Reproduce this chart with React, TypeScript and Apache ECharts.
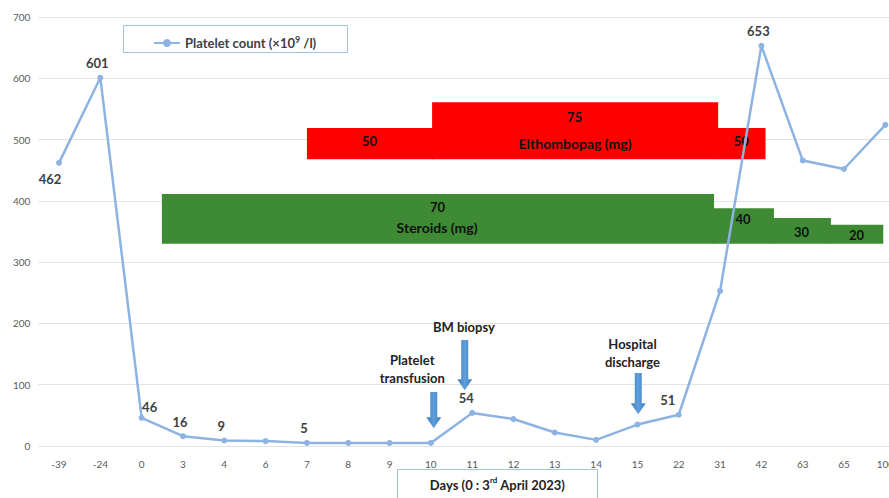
import React, { useEffect, useRef } from "react";
import * as echarts from "echarts";

const categories = ["-39", "-24", "0", "3", "4", "6", "7", "8", "9", "10", "11", "12", "13", "14", "15", "22", "31", "42", "63", "65", "100"];
const platelets = [462, 601, 46, 16, 9, 8, 5, 5, 5, 5, 54, 44, 22, 10, 35, 51, 253, 653, 466, 452, 524];
const yTicks = { min: 0, max: 700, interval: 100 };

// labelled points: index -> label placement
const labelledPoints: Record<number, string> = {
  0: "bottomLeft", 1: "top", 2: "topRight", 3: "top", 4: "top", 6: "top", 10: "topLeft", 15: "left", 17: "top",
};

// Elthombopag steps (x in category-index units)
const elthDose = [50, 75, 50];
const elthFrom = [6, 9.03, 15.93];
const elthTo = [9.03, 15.93, 17.1];
const elthTop = [519, 561, 519];
const elthBase = 468;
const elthLabelY = [498, 537, 498];
const elthName = "Elthombopag (mg)";

// Steroid steps
const sterDose = [70, 40, 30, 20];
const sterFrom = [2.49, 15.83, 17.28, 18.66];
const sterTo = [15.83, 17.28, 18.66, 19.95];
const sterTop = [411, 388, 372, 361];
const sterBase = 330;
const sterLabelY = [390, 370, 349, 344];
const sterName = "Steroids (mg)";

// events
const eventText = ["Platelet\ntransfusion", "BM biopsy", "Hospital\ndischarge"];
const eventArrowX = [9.07, 9.82, 14.02];
const eventArrowTop = [88, 173, 119];
const eventArrowBottom = [29, 91, 52];
const eventTextX = [8.55, 9.8, 13.88];
const eventTextY = [125, 194, 152];

const FONT = "Lato, 'Open Sans', sans-serif";

function labelFor(pos: string) {
  const base: any = { show: true, fontSize: 13, fontWeight: "bold", color: "#404040", fontFamily: FONT };
  switch (pos) {
    case "bottomLeft": return { ...base, position: "bottom", offset: [-9, 2] };
    case "top": return { ...base, position: "top", offset: [-3, 0] };
    case "topRight": return { ...base, position: "top", offset: [8, 4] };
    case "topLeft": return { ...base, position: "top", offset: [-6, 0] };
    case "left": return { ...base, position: "top", offset: [-11, 0] };
  }
  return base;
}

export default function App() {
  const ref = useRef<HTMLDivElement>(null);
  useEffect(() => {
    if (!ref.current) return;
    const chart = echarts.init(ref.current, null, { renderer: "svg" });

    const lineData = platelets.map((v, i) =>
      labelledPoints[i] ? { value: v, label: labelFor(labelledPoints[i]) } : { value: v }
    );

    const elthData = elthDose.map((d, i) => [elthFrom[i], elthTo[i], elthBase, elthTop[i], d, elthLabelY[i]]);
    const sterData = sterDose.map((d, i) => [sterFrom[i], sterTo[i], sterBase, sterTop[i], d, sterLabelY[i]]);

    const stepRender = (color: string, name: string, nameX: number, nameY: number, count: number) => (params: any, api: any) => {
      const from = api.value(0), to = api.value(1), base = api.value(2), top = api.value(3);
      const dose = api.value(4), ly = api.value(5);
      const p1 = api.coord([from, top]);
      const p2 = api.coord([to, base]);
      const pl = api.coord([(from + to) / 2, ly]);
      const extra = params.dataIndex < count - 1 ? 1 : 0;
      const children: any[] = [
        { type: "rect", shape: { x: p1[0], y: p1[1], width: p2[0] - p1[0] + extra, height: p2[1] - p1[1] }, style: { fill: color }, z2: 1 },
        { type: "text", x: pl[0], y: pl[1], style: { text: String(dose), fill: "#111", font: `bold 13px ${FONT}`, align: "center", verticalAlign: "middle" }, z2: 5 },
      ];
      if (params.dataIndex === 0) {
        const pn = api.coord([nameX, nameY]);
        children.push({ type: "text", x: pn[0], y: pn[1], style: { text: name, fill: "#111", font: `bold 14px ${FONT}`, align: "center", verticalAlign: "middle" }, z2: 5 });
      }
      return { type: "group", children };
    };

    const eventData = eventText.map((t, i) => [eventArrowX[i], eventArrowTop[i], eventArrowBottom[i], eventTextX[i], eventTextY[i], i]);

    const option: any = {
      animation: false,
      grid: { left: 38.35, right: 0, top: 17, bottom: 52 },
      legend: {
        left: 148, top: 30,
        itemWidth: 26, itemHeight: 10,
        data: ["Platelet count"],
        formatter: () => "{a|Platelet count (×10}{s|9}{a| /l)}",
        textStyle: {
          rich: {
            a: { fontSize: 13, fontWeight: "bold", color: "#404040", fontFamily: FONT, lineHeight: 16 },
            s: { fontSize: 9, fontWeight: "bold", color: "#404040", fontFamily: FONT, verticalAlign: "top", lineHeight: 10 },
          },
        },
      },
      xAxis: [
        {
          type: "category", data: categories, boundaryGap: true,
          axisLine: { show: true, lineStyle: { color: "#e3e3e3" } },
          axisTick: { show: false },
          axisLabel: { color: "#595959", fontSize: 10, margin: 13, fontFamily: FONT, interval: 0 },
        },
        { type: "value", min: -0.5, max: 20.5, show: false },
      ],
      yAxis: {
        type: "value", min: yTicks.min, max: yTicks.max, interval: yTicks.interval,
        axisLine: { show: false }, axisTick: { show: false },
        axisLabel: { color: "#595959", fontSize: 10, margin: 8, fontFamily: FONT },
        splitLine: { lineStyle: { color: "#e3e3e3" } },
      },
      series: [
        {
          type: "custom", xAxisIndex: 1, clip: false, z: 1,
          data: elthData,
          renderItem: stepRender("#ff0000", elthName, 12.49, 494, elthData.length),
        },
        {
          type: "custom", xAxisIndex: 1, clip: false, z: 1,
          data: sterData,
          renderItem: stepRender("#3f8a34", sterName, 9.15, 356, sterData.length),
        },
        {
          type: "custom", xAxisIndex: 1, clip: false, z: 1,
          data: eventData,
          renderItem: (params: any, api: any) => {
            const x = api.value(0), top = api.value(1), bottom = api.value(2), tx = api.value(3), ty = api.value(4);
            const i = api.value(5);
            const pt = api.coord([x, top]);
            const pb = api.coord([x, bottom]);
            const ptext = api.coord([tx, ty]);
            const cx = pt[0];
            const hw = 3.5, hh = 7.5, hl = 11;
            const pts = [
              [cx - hw, pt[1]], [cx + hw, pt[1]], [cx + hw, pb[1] - hl], [cx + hh, pb[1] - hl],
              [cx, pb[1]], [cx - hh, pb[1] - hl], [cx - hw, pb[1] - hl],
            ];
            return {
              type: "group",
              children: [
                {
                  type: "polygon", shape: { points: pts },
                  style: {
                    fill: new echarts.graphic.LinearGradient(0, 0, 1, 0, [
                      { offset: 0, color: "#3a7bc0" }, { offset: 0.5, color: "#5f9fdc" }, { offset: 1, color: "#3a7bc0" },
                    ]),
                  },
                },
                {
                  type: "text", x: ptext[0], y: ptext[1],
                  style: { text: eventText[i], fill: "#222", font: `bold 13px ${FONT}`, align: "center", verticalAlign: "middle", lineHeight: 18 },
                },
              ],
            };
          },
        },
        {
          type: "line", name: "Platelet count", data: lineData, z: 5,
          symbol: "circle", symbolSize: 6,
          lineStyle: { color: "#8db3e2", width: 2.5 },
          itemStyle: { color: "#8db3e2" },
          label: { show: false },
        },
      ],
      graphic: [
        {
          type: "rect", left: 123, top: 25, z: -1,
          shape: { width: 224, height: 27 },
          style: { fill: "#fff", stroke: "#9dc3e6", lineWidth: 1 },
        },
        {
          type: "group", left: 397, top: 469,
          children: [
            { type: "rect", shape: { x: 0, y: 0, width: 200, height: 32 }, style: { fill: "#fff", stroke: "#9dc3e6", lineWidth: 1 } },
            {
              type: "text", x: 100, y: 15,
              style: {
                text: "{a|Days (0 : 3}{s|rd}{a| April 2023)}",
                align: "center", verticalAlign: "middle",
                rich: {
                  a: { fontSize: 13, fontWeight: "bold", fill: "#222", fontFamily: FONT, lineHeight: 18 },
                  s: { fontSize: 8, fontWeight: "bold", fill: "#222", fontFamily: FONT, verticalAlign: "top", lineHeight: 10 },
                },
              },
            },
          ],
        },
      ],
    };
    chart.setOption(option);
    return () => chart.dispose();
  }, []);
  return (
    <div style={{ position: "fixed", left: 0, top: 0, width: 889, height: 498, overflow: "hidden", background: "#fff" }}>
      <div ref={ref} style={{ width: 906, height: 498 }} />
    </div>
  );
}
